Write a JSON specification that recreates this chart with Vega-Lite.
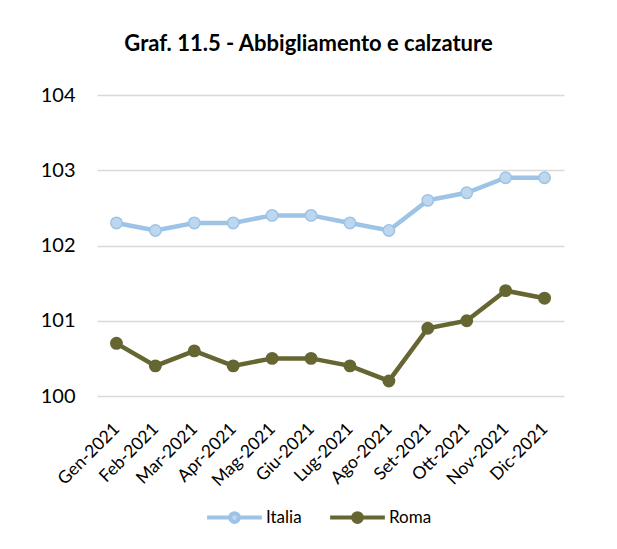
{
  "$schema": "https://vega.github.io/schema/vega-lite/v6.json",
  "width": 467,
  "height": 301,
  "autosize": {"type": "none"},
  "padding": {"left": 97, "top": 95, "right": 53, "bottom": 153},
  "background": "white",
  "title": {"text": "Graf. 11.5 - Abbigliamento e calzature", "font": "Lato", "fontSize": 22, "fontWeight": "bold", "color": "#000000", "offset": 29, "dx": -22, "anchor": "middle"},
  "config": {
    "view": {"stroke": null},
    "font": "Lato"
  },
  "data": {"values": [
    {"mese": "Gen-2021", "serie": "Italia", "v": 102.3},
    {"mese": "Feb-2021", "serie": "Italia", "v": 102.2},
    {"mese": "Mar-2021", "serie": "Italia", "v": 102.3},
    {"mese": "Apr-2021", "serie": "Italia", "v": 102.3},
    {"mese": "Mag-2021", "serie": "Italia", "v": 102.4},
    {"mese": "Giu-2021", "serie": "Italia", "v": 102.4},
    {"mese": "Lug-2021", "serie": "Italia", "v": 102.3},
    {"mese": "Ago-2021", "serie": "Italia", "v": 102.2},
    {"mese": "Set-2021", "serie": "Italia", "v": 102.6},
    {"mese": "Ott-2021", "serie": "Italia", "v": 102.7},
    {"mese": "Nov-2021", "serie": "Italia", "v": 102.9},
    {"mese": "Dic-2021", "serie": "Italia", "v": 102.9},
    {"mese": "Gen-2021", "serie": "Roma", "v": 100.7},
    {"mese": "Feb-2021", "serie": "Roma", "v": 100.4},
    {"mese": "Mar-2021", "serie": "Roma", "v": 100.6},
    {"mese": "Apr-2021", "serie": "Roma", "v": 100.4},
    {"mese": "Mag-2021", "serie": "Roma", "v": 100.5},
    {"mese": "Giu-2021", "serie": "Roma", "v": 100.5},
    {"mese": "Lug-2021", "serie": "Roma", "v": 100.4},
    {"mese": "Ago-2021", "serie": "Roma", "v": 100.2},
    {"mese": "Set-2021", "serie": "Roma", "v": 100.9},
    {"mese": "Ott-2021", "serie": "Roma", "v": 101.0},
    {"mese": "Nov-2021", "serie": "Roma", "v": 101.4},
    {"mese": "Dic-2021", "serie": "Roma", "v": 101.3}
  ]},
  "encoding": {
    "x": {"field": "mese", "type": "ordinal", "sort": null,
      "scale": {"type": "point", "padding": 0.5},
      "axis": {"title": null, "labelAngle": -45, "labelAlign": "right", "labelBaseline": "middle", "labelFontSize": 17.5, "labelColor": "#000000", "ticks": false, "domain": false, "labelPadding": 30, "labelFont": "Lato"}},
    "y": {"field": "v", "type": "quantitative",
      "scale": {"domain": [100, 104], "nice": false, "zero": false},
      "axis": {"title": null, "values": [100, 101, 102, 103, 104], "format": "d", "labelFontSize": 20, "labelColor": "#000000", "ticks": false, "domain": false, "labelPadding": 22, "gridColor": "#d9d9d9", "gridWidth": 1.3, "labelFont": "Lato"}}
  },
  "layer": [
    {
      "mark": {"type": "line", "strokeWidth": 4.5},
      "encoding": {
        "stroke": {"field": "serie", "type": "nominal",
          "scale": {"domain": ["Italia", "Roma"], "range": ["#9DC3E6", "#666633"]},
          "legend": {"title": null, "orient": "none", "legendX": 108, "legendY": 393, "direction": "horizontal",
            "symbolType": "M-1,0H-0.16M0.16,0H1M0.16,0A0.16,0.16,0,1,1,-0.16,0A0.16,0.16,0,1,1,0.16,0Z",
            "symbolSize": 3000, "symbolStrokeWidth": 4, "labelFontSize": 17, "labelColor": "#000000", "labelFont": "Lato", "columnPadding": 20, "labelOffset": 2}}
      }
    },
    {
      "mark": {"type": "point", "filled": false, "size": 130, "strokeWidth": 1.5, "opacity": 1, "shape": "circle"},
      "encoding": {
        "stroke": {"field": "serie", "type": "nominal",
          "scale": {"domain": ["Italia", "Roma"], "range": ["#9DC3E6", "#666633"]},
          "legend": {"title": null, "orient": "none", "legendX": 108, "legendY": 393, "direction": "horizontal",
            "symbolType": "M-1,0H-0.16M0.16,0H1M0.16,0A0.16,0.16,0,1,1,-0.16,0A0.16,0.16,0,1,1,0.16,0Z",
            "symbolSize": 3000, "symbolStrokeWidth": 4, "labelFontSize": 17, "labelColor": "#000000", "labelFont": "Lato", "columnPadding": 20, "labelOffset": 2}},
        "fill": {"field": "serie", "type": "nominal",
          "scale": {"domain": ["Italia", "Roma"], "range": ["#BDD7EE", "#666633"]},
          "legend": {"title": null, "orient": "none", "legendX": 108, "legendY": 393, "direction": "horizontal",
            "symbolType": "M-1,0H-0.16M0.16,0H1M0.16,0A0.16,0.16,0,1,1,-0.16,0A0.16,0.16,0,1,1,0.16,0Z",
            "symbolSize": 3000, "symbolStrokeWidth": 4, "labelFontSize": 17, "labelColor": "#000000", "labelFont": "Lato", "columnPadding": 20, "labelOffset": 2}}
      }
    }
  ]
}
